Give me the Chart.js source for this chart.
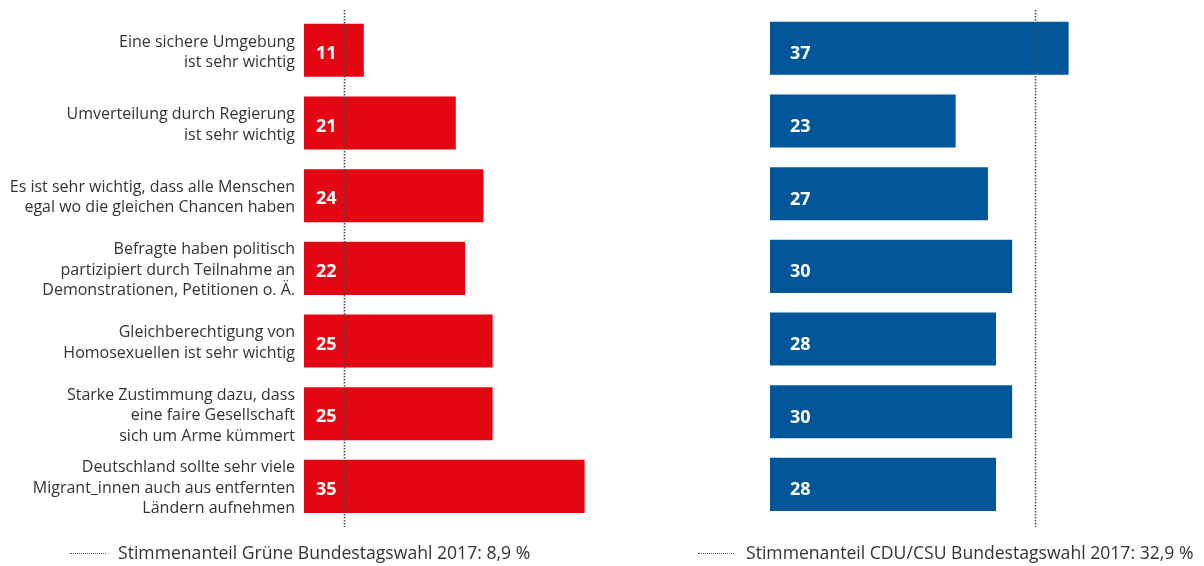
<!DOCTYPE html>
<html lang="de">
<head>
<meta charset="utf-8">
<title>Zustimmung nach Parteipräferenz</title>
<script src="https://cdn.jsdelivr.net/npm/chart.js@4/dist/chart.umd.min.js"></script>
<style>
  html, body { margin: 0; padding: 0; background: #fff; }
  #wrap { position: relative; width: 1204px; height: 566px; overflow: hidden;
          font-family: "Open Sans", sans-serif; color: #333; }
  #left  { position: absolute; left: 0;     top: 0; }
  #right { position: absolute; left: 640px; top: 0; }
  .legend { position: absolute; top: 541px; font-size: 17.6px; line-height: 22px; white-space: nowrap; }
  .legend .swatch { display: inline-block; width: 36px; border-top: 1.5px dotted #555;
                    vertical-align: middle; margin-right: 12px; position: relative; top: -1px; }
</style>
</head>
<body>
<div id="wrap">
  <canvas id="left" width="640" height="566"></canvas>
  <canvas id="right" width="564" height="566"></canvas>
  <div class="legend" id="legendLeft" style="left:70px;"><span class="swatch"></span><span class="txt"></span></div>
  <div class="legend" id="legendRight" style="left:698px;"><span class="swatch"></span><span class="txt"></span></div>
</div>
<script>
// Statements (shared by both panels)
const categories = [
  ['Eine sichere Umgebung', 'ist sehr wichtig'],
  ['Umverteilung durch Regierung', 'ist sehr wichtig'],
  ['Es ist sehr wichtig, dass alle Menschen', 'egal wo die gleichen Chancen haben'],
  ['Befragte haben politisch', 'partizipiert durch Teilnahme an', 'Demonstrationen, Petitionen o. Ä.'],
  ['Gleichberechtigung von', 'Homosexuellen ist sehr wichtig'],
  ['Starke Zustimmung dazu, dass', 'eine faire Gesellschaft', 'sich um Arme kümmert'],
  ['Deutschland sollte sehr viele', 'Migrant_innen auch aus entfernten', 'Ländern aufnehmen']
];

// Values in percent
const greenValues = [11, 21, 24, 22, 25, 25, 35];
const cduValues   = [37, 23, 27, 30, 28, 30, 28];

// Election results used as reference lines
const greenVoteShare = 8.9;
const cduVoteShare   = 32.9;

const legendTexts = [
  'Stimmenanteil Grüne Bundestagswahl 2017: 8,9 %',
  'Stimmenanteil CDU/CSU Bundestagswahl 2017: 32,9 %'
];

const RED  = '#E30613';
const BLUE = '#01569A';
const FONT = '"Open Sans", sans-serif';

// Dotted vertical line at the vote share
const refLine = {
  id: 'refLine',
  afterDatasetsDraw(chart, args, opts) {
    const { ctx } = chart;
    const x = chart.scales.x.getPixelForValue(opts.value);
    ctx.save();
    ctx.strokeStyle = '#4a4a4a';
    ctx.lineWidth = 1.6;
    ctx.setLineDash([1.5, 1.5]);
    ctx.beginPath();
    ctx.moveTo(x, opts.top);
    ctx.lineTo(x, opts.bottom);
    ctx.stroke();
    ctx.restore();
  }
};

// White value labels at the start of each bar
const valueLabels = {
  id: 'valueLabels',
  afterDatasetsDraw(chart, args, opts) {
    const { ctx } = chart;
    const meta = chart.getDatasetMeta(0);
    const values = chart.data.datasets[0].data;
    ctx.save();
    ctx.fillStyle = '#fff';
    ctx.font = 'bold 18px ' + FONT;
    ctx.textAlign = 'left';
    ctx.textBaseline = 'alphabetic';
    meta.data.forEach((bar, i) => {
      ctx.fillText(String(values[i]), chart.chartArea.left + opts.offset, bar.y + opts.dy);
    });
    ctx.restore();
  }
};

Chart.register(refLine, valueLabels);

new Chart(document.getElementById('left'), {
  type: 'bar',
  data: {
    labels: categories,
    datasets: [{
      data: greenValues,
      backgroundColor: RED,
      barPercentage: 0.73,
      categoryPercentage: 1,
      clip: 0
    }]
  },
  options: {
    indexAxis: 'y',
    responsive: false,
    animation: false,
    events: [],
    layout: { padding: { top: 14, bottom: 43.3, left: 0, right: 9.4 } },
    plugins: {
      legend: { display: false },
      tooltip: { enabled: false },
      refLine: { value: greenVoteShare, top: 10, bottom: 527 },
      valueLabels: { offset: 12, dy: 8.7 }
    },
    scales: {
      x: { display: false, min: 4.5, max: 40 },
      y: {
        grid: { display: false, drawTicks: false },
        border: { display: false },
        ticks: {
          autoSkip: false,
          padding: 9,
          labelOffset: 2,
          color: '#333',
          font: { family: FONT, size: 16, lineHeight: 1.28 }
        },
        afterFit(scale) {
          scale.width = 304;
          scale.paddingTop = 0;
          scale.paddingBottom = 0;
        }
      }
    }
  }
});

new Chart(document.getElementById('right'), {
  type: 'bar',
  data: {
    labels: categories,
    datasets: [{
      data: cduValues,
      backgroundColor: BLUE,
      barPercentage: 0.73,
      categoryPercentage: 1
    }]
  },
  options: {
    indexAxis: 'y',
    responsive: false,
    animation: false,
    events: [],
    layout: { padding: { top: 12, bottom: 45.3, left: 130, right: 30.45 } },
    plugins: {
      legend: { display: false },
      tooltip: { enabled: false },
      refLine: { value: cduVoteShare, top: 10, bottom: 527 },
      valueLabels: { offset: 20, dy: 11 }
    },
    scales: {
      x: { display: false, min: 0, max: 50 },
      y: { display: false }
    }
  }
});

document.querySelector('#legendLeft .txt').textContent = legendTexts[0];
document.querySelector('#legendRight .txt').textContent = legendTexts[1];
</script>
</body>
</html>
